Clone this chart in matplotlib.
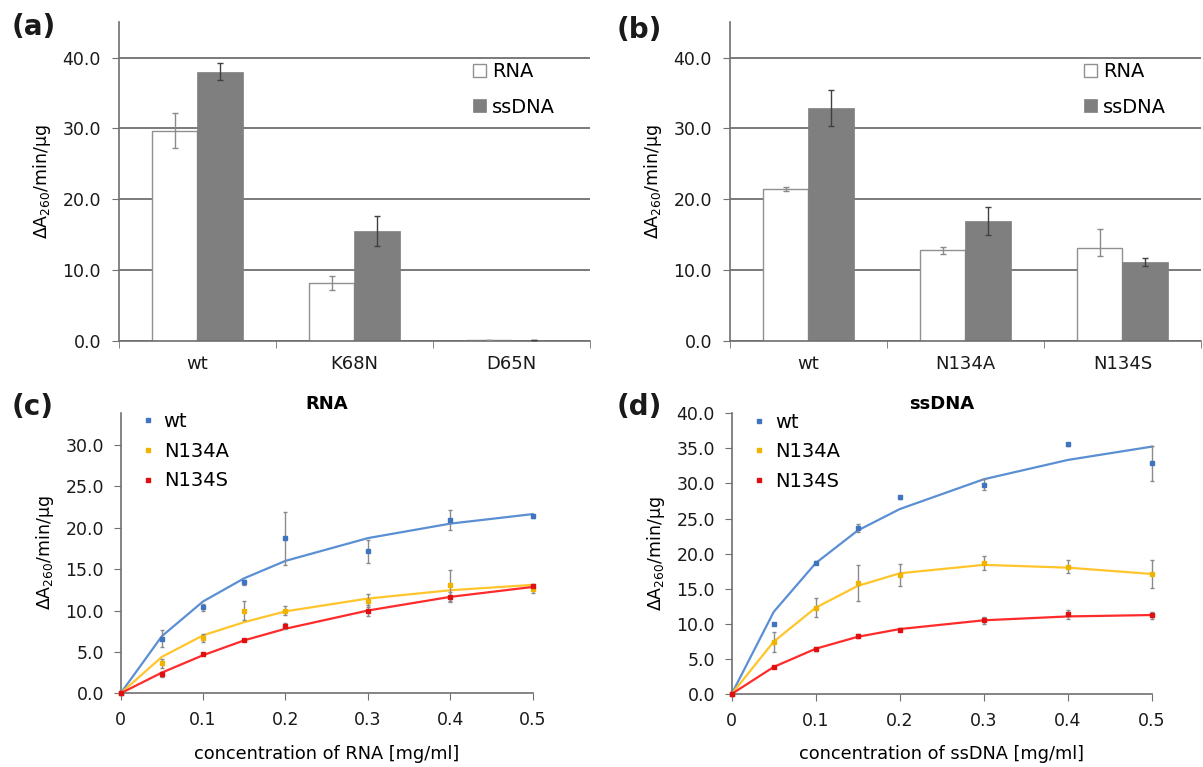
import numpy as np
import matplotlib.pyplot as plt

plt.rcParams['font.family'] = ['DejaVu Sans']
plt.rcParams['mathtext.fontset'] = 'dejavusans'

# (a) activity of mutants
cats_a = ["wt", "K68N", "D65N"]
rna_a = [29.7, 8.2, 0.15]
rna_a_err = [2.5, 1.0, 0.0]
ssdna_a = [38.0, 15.5, 0.1]
ssdna_a_err = [1.2, 2.1, 0.0]

# (b)
cats_b = ["wt", "N134A", "N134S"]
rna_b = [21.4, 12.8, 13.1]
rna_b_err_lo = [0.3, 0.5, 1.1]
rna_b_err_hi = [0.3, 0.5, 2.7]
ssdna_b = [32.9, 16.9, 11.1]
ssdna_b_err = [2.5, 2.0, 0.6]

# (c) and (d) concentration series
conc = [0, 0.05, 0.1, 0.15, 0.2, 0.3, 0.4, 0.5]

wt_rna = [0, 6.6, 10.4, 13.4, 18.75, 17.15, 20.9, 21.4]
wt_rna_err = [0, 1.0, 0.4, 0.3, 3.2, 1.4, 1.2, 0.2]
wt_rna_fit = [0, 6.9, 11.1, 13.9, 16.0, 18.75, 20.5, 21.65]
n134a_rna = [0, 3.6, 6.7, 10.0, 10.0, 11.2, 13.05, 12.6]
n134a_rna_err = [0, 0.6, 0.5, 1.2, 0.6, 0.8, 1.9, 0.5]
n134a_rna_fit = [0, 4.4, 7.0, 8.6, 9.9, 11.45, 12.45, 13.1]
n134s_rna = [0, 2.3, 4.7, 6.4, 8.15, 10.0, 11.65, 13.0]
n134s_rna_err = [0, 0.3, 0.1, 0.1, 0.4, 0.7, 0.6, 0.2]
n134s_rna_fit = [0, 2.5, 4.6, 6.4, 7.8, 10.0, 11.65, 12.85]

wt_dna = [0, 9.98, 18.7, 23.65, 28.0, 29.8, 35.55, 32.9]
wt_dna_err = [0, 0.2, 0.2, 0.5, 0.2, 0.8, 0.2, 2.5]
wt_dna_fit = [0, 11.7, 18.65, 23.3, 26.35, 30.6, 33.35, 35.25]
n134a_dna = [0, 7.45, 12.3, 15.8, 16.95, 18.6, 18.15, 17.1]
n134a_dna_err = [0, 1.4, 1.4, 2.6, 1.6, 1.0, 0.9, 2.0]
n134a_dna_fit = [0, 7.45, 12.3, 15.4, 17.2, 18.4, 18.0, 17.1]
n134s_dna = [0, 3.85, 6.45, 8.25, 9.15, 10.5, 11.35, 11.2]
n134s_dna_err = [0, 0.2, 0.3, 0.3, 0.2, 0.5, 0.6, 0.5]
n134s_dna_fit = [0, 3.85, 6.45, 8.15, 9.25, 10.5, 11.05, 11.25]

conc_ticks = [0, 0.1, 0.2, 0.3, 0.4, 0.5]
conc_labels = ["0", "0.1", "0.2", "0.3", "0.4", "0.5"]

ylab = "ΔA$_{260}$/min/μg"
axis_col = '#707070'
grid_col = '#7a7a7a'
bar_col = '#7f7f7f'
txt_col = '#1a1a1a'
fs = 12.5

fig = plt.figure(figsize=(12.03, 7.67), dpi=100)


def style_axes(ax):
    for s in ['top', 'right']:
        ax.spines[s].set_visible(False)
    for s in ['left', 'bottom']:
        ax.spines[s].set_color(axis_col)
        ax.spines[s].set_linewidth(1.2)


def bar_panel(rect, cats, rna, rna_err, dna, dna_err):
    ax = fig.add_axes(rect)
    x = np.arange(len(cats))
    w = 0.287
    ax.set_axisbelow(True)
    ax.yaxis.grid(True, color=grid_col, lw=1.4)
    ax.bar(x - w / 2, rna, w, color='white', edgecolor='#909090', lw=1.0,
           label="RNA", zorder=2)
    ax.bar(x + w / 2, dna, w, color=bar_col, edgecolor=bar_col, lw=0.5,
           label="ssDNA", zorder=2)
    ax.errorbar(x - w / 2, rna, yerr=rna_err, fmt='none', ecolor='#8a8a8a',
                elinewidth=1, capsize=2, zorder=3)
    ax.errorbar(x + w / 2, dna, yerr=dna_err, fmt='none', ecolor='#404040',
                elinewidth=1, capsize=2, zorder=3)
    ax.set_xlim(-0.5, len(cats) - 0.5)
    ax.set_ylim(0, 45)
    ax.set_yticks([0, 10, 20, 30, 40])
    ax.set_yticklabels(["0.0", "10.0", "20.0", "30.0", "40.0"], fontsize=fs,
                       color=txt_col)
    ax.set_xticks(x)
    ax.set_xticklabels(cats, fontsize=13, color=txt_col)
    ax.set_xticks(np.arange(len(cats) + 1) - 0.5, minor=True)
    ax.tick_params(axis='x', which='major', length=0, pad=10)
    ax.tick_params(axis='x', which='minor', length=5, color=axis_col, direction='out')
    ax.tick_params(axis='y', length=5, color=axis_col, direction='out', pad=8)
    style_axes(ax)
    ax.set_ylabel(ylab, fontsize=fs, labelpad=7)
    ax.legend(loc='upper left', bbox_to_anchor=(0.715, 0.93), frameon=False,
              fontsize=14, handlelength=0.65, handleheight=0.65, handletextpad=0.3,
              labelspacing=0.85)
    return ax


def curve_panel(rect, title, series, ymax, yticks, xlabel):
    ax = fig.add_axes(rect)
    handles = []
    for pts, err, fit, lc, mc, name in series:
        ax.plot(conc, fit, color=lc, lw=1.6, zorder=2, clip_on=False)
        ax.errorbar(conc, pts, yerr=err, fmt='none', ecolor='#8a8a8a',
                    elinewidth=1, capsize=1.5, zorder=3, clip_on=False)
        h, = ax.plot(conc, pts, 's', color=mc, ms=3, ls='none', zorder=4,
                     label=name, clip_on=False)
        handles.append(h)
    ax.set_xlim(0, 0.5)
    ax.set_ylim(0, ymax)
    ax.set_xticks(conc_ticks)
    ax.set_xticklabels(conc_labels, fontsize=fs, color=txt_col)
    ax.set_yticks(yticks)
    ax.set_yticklabels(["%.1f" % v for v in yticks], fontsize=fs, color=txt_col)
    ax.tick_params(length=5, color=axis_col, direction='out')
    ax.tick_params(axis='x', pad=8)
    ax.tick_params(axis='y', pad=7)
    style_axes(ax)
    ax.set_ylabel(ylab, fontsize=fs, labelpad=7)
    ax.set_xlabel(xlabel, fontsize=12.8, labelpad=11)
    ax.set_title(title, fontsize=13, fontweight='bold', pad=2)
    ax.legend(handles=handles, loc='upper left', bbox_to_anchor=(0.01, 1.065),
              frameon=False, fontsize=14, handlelength=0.6, handletextpad=0.5,
              labelspacing=0.55, markerscale=1.0)
    return ax


blue_l, blue_m = '#5b8fd4', '#3f74bf'
yel_l, yel_m = '#ffc52a', '#f0b400'
red_l, red_m = '#ff2a2a', '#e01010'

bar_panel([0.0989, 0.5558, 0.3915, 0.4151], cats_a, rna_a, rna_a_err,
          ssdna_a, ssdna_a_err)
bar_panel([0.6068, 0.5558, 0.3915, 0.4151], cats_b, rna_b,
          [rna_b_err_lo, rna_b_err_hi], ssdna_b, ssdna_b_err)

curve_panel([0.1003, 0.0961, 0.3425, 0.3658], "RNA",
            [(wt_rna, wt_rna_err, wt_rna_fit, blue_l, blue_m, "wt"),
             (n134a_rna, n134a_rna_err, n134a_rna_fit, yel_l, yel_m, "N134A"),
             (n134s_rna, n134s_rna_err, n134s_rna_fit, red_l, red_m, "N134S")],
            33.9, [0, 5, 10, 15, 20, 25, 30], "concentration of RNA [mg/ml]")
curve_panel([0.6082, 0.0952, 0.3494, 0.366], "ssDNA",
            [(wt_dna, wt_dna_err, wt_dna_fit, blue_l, blue_m, "wt"),
             (n134a_dna, n134a_dna_err, n134a_dna_fit, yel_l, yel_m, "N134A"),
             (n134s_dna, n134s_dna_err, n134s_dna_fit, red_l, red_m, "N134S")],
            40, [0, 5, 10, 15, 20, 25, 30, 35, 40], "concentration of ssDNA [mg/ml]")

for lbl, px, py in [("(a)", 12, 27), ("(b)", 617, 30), ("(c)", 12, 407), ("(d)", 617, 407)]:
    fig.text(px / 1203, 1 - py / 767, lbl, fontsize=20, fontweight='bold',
             ha='left', va='center', color=txt_col)

fig.savefig("out.png", dpi=100)
